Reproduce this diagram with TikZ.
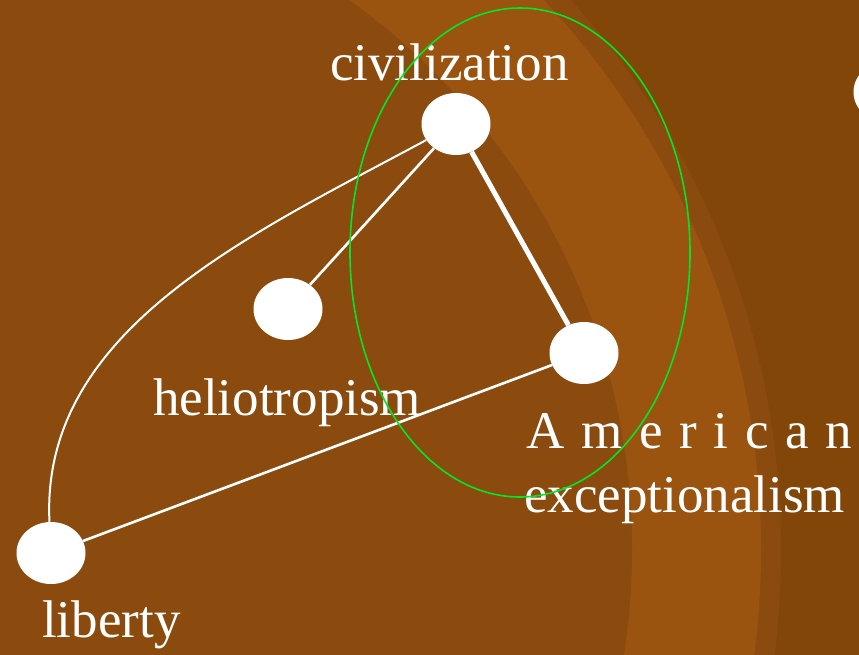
\documentclass[tikz,border=0pt]{standalone}
\usepackage{fontspec}
\setmainfont{Liberation Serif}
\usetikzlibrary{shapes.geometric}
\definecolor{bgbase}{RGB}{139,75,14}
\definecolor{bglight}{RGB}{154,84,16}
\definecolor{bgdark}{RGB}{130,70,8}
\definecolor{ringgreen}{RGB}{0,230,40}
\tikzset{
  dot/.style={ellipse,fill=white,draw=none,minimum width=69pt,minimum height=62pt,inner sep=0pt},
  lbl/.style={anchor=base west,inner sep=0pt,text=white,font=\fontsize{53}{60}\selectfont},
  thinedge/.style={white,line width=2.6pt},
  thickedge/.style={white,line width=5pt},
  curveedge/.style={white,line width=2pt},
  ring/.style={ringgreen,line width=1.6pt}
}
\begin{document}
\begin{tikzpicture}[x=1pt,y=-1pt]
\useasboundingbox (0,0) rectangle (859,654);
\begin{scope}
\clip (-3,-3) rectangle (862,657);
\fill[bgdark] (-3,-3) rectangle (862,657);
\fill[bgbase] (-44,550) circle[radius=825];
\fill[bglight] (-44,550) circle[radius=805];
\fill[bgbase] (-44,550) circle[radius=676];
\end{scope}
% nodes
\node[dot] (civ) at (456,124) {};
\node[dot] (helio) at (288,309) {};
\node[dot] (amer) at (584,353) {};
\node[dot] (lib) at (51,553) {};
\node[dot] (partial) at (888,92) {};
% edges
\draw[thinedge] (civ) -- (helio);
\draw[thickedge] (civ) -- (amer);
\draw[thinedge] (lib) -- (amer);
\draw[curveedge] (civ) .. controls (250,235) and (40,330) .. (lib);
% labels
\node[lbl] (civlbl) at (330,80) {civilization};
\node[lbl] (heliolbl) at (153,415) {heliotropism};
\node[lbl] (amerlbl) at (526,448) {A\hspace{16.7pt}m\hspace{16.7pt}e\hspace{16.7pt}r\hspace{16.7pt}i\hspace{16.7pt}c\hspace{16.7pt}a\hspace{16.7pt}n};
\node[lbl] (exclbl) at (524,512) {exceptionalism};
\node[lbl] (liblbl) at (42,637) {liberty};
% green ring
\draw[ring] (520,252.5) ellipse[x radius=170,y radius=244.5];
\end{tikzpicture}
\end{document}
